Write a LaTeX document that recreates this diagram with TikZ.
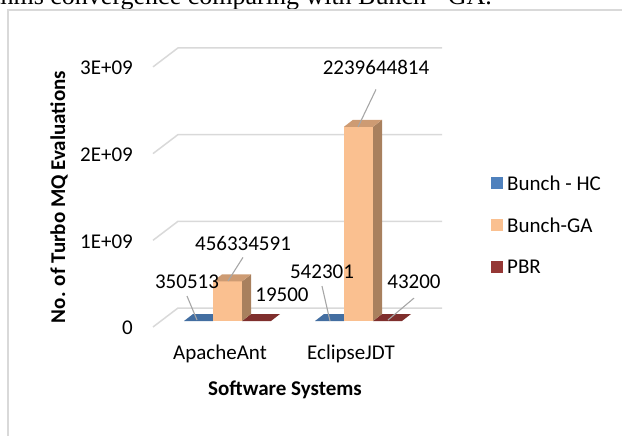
\documentclass[tikz,border=0pt]{standalone}
\usepackage{fontspec}
\setmainfont{Carlito}
\newfontfamily\capfont{Liberation Serif}
\definecolor{gridgray}{RGB}{217,217,217}
\definecolor{leadgray}{RGB}{166,166,166}
\definecolor{hcblue}{RGB}{79,129,189}
\definecolor{gaorange}{RGB}{250,192,144}
\definecolor{gaside}{RGB}{168,128,94}
\definecolor{gatop}{RGB}{205,155,115}
\definecolor{pbrred}{RGB}{149,55,53}
\begin{document}
\begin{tikzpicture}
    [x=1pt, y=-1pt,
    every node/.style={inner sep=0pt, font=\fontsize{21}{25}\selectfont},
    gridline/.style={draw=gridgray, line width=1.5pt},
    leader/.style={draw=leadgray, line width=1.1pt},
    key/.style={minimum size=12pt, anchor=west},
    title/.style={font=\fontsize{21}{25}\selectfont\bfseries}]
    \useasboundingbox (0,0) rectangle (622,436);
    \clip (0,0) rectangle (622,436);
    % caption line cut off at the top
    \node[anchor=base east, font=\fontsize{26}{30}\capfont] (caption) at (492,5)
        {algorithms convergence comparing with Bunch - GA.};
    % chart frame
    \draw[gridgray, line width=1.5pt] (8,436) -- (8,10) -- (622,10);
    % gridlines and tick labels
    \foreach \v/\t in {0/0, 1/1E+09, 2/2E+09, 3/3E+09} {
        \draw[gridline] (153,{327-86.7*\v}) -- ++(25,-19) -- ++(264,0);
        \node[anchor=east] (tick\v) at (133,{328-86.7*\v}) {\t};
    }
    % flat bars (Bunch - HC and PBR)
    \foreach \x/\c in {184/hcblue, 242/pbrred, 315/hcblue, 373/pbrred}
        \fill[\c!85!black] (\x,321) -- ++(9,-7) -- ++(29,0) -- ++(-9,7) -- cycle;
    % Bunch-GA bars
    \foreach \x/\h in {213/39.6, 344/194.2} {
        \fill[gaorange] (\x,321) rectangle ++(29,-\h);
        \fill[gaside] (\x+29,321) -- ++(9,-7) -- ++(0,-\h) -- ++(-9,7) -- cycle;
        \fill[gatop] (\x,321-\h) -- ++(9,-7) -- ++(29,0) -- ++(-9,7) -- cycle;
    }
    % data labels
    \node (antHC) at (187,282) {350513};
    \node (antGA) at (243,243) {456334591};
    \node (antPBR) at (282,295) {19500};
    \node (jdtHC) at (322,272) {542301};
    \node (jdtGA) at (376,67) {2239644814};
    \node (jdtPBR) at (414,282) {43200};
    \coordinate (antHCend) at (197,320);
    \coordinate (antGAend) at (228,281);
    \coordinate (jdtHCend) at (330,321);
    \coordinate (jdtGAend) at (358,127);
    \coordinate (jdtPBRend) at (388,320);
    \draw[leader] ([yshift=-7pt]antHC.south) -- (antHCend);
    \draw[leader] ([yshift=-7pt]antGA.south) -- (antGAend);
    \draw[leader] ([yshift=-7pt]jdtHC.south) -- (jdtHCend);
    \draw[leader] ([yshift=-15pt]jdtGA.south) -- (jdtGAend);
    \draw[leader] ([yshift=-9pt]jdtPBR.south) -- (jdtPBRend);
    % categories and axis titles
    \node (apache) at (220,354) {ApacheAnt};
    \node (eclipse) at (351,354) {EclipseJDT};
    \node[title] (xtitle) at (285,390) {Software Systems};
    \node[title, rotate=90] (ytitle) at (59,197) {No. of Turbo MQ Evaluations};
    % legend
    \node[key, fill=hcblue] (keyHC) at (491,183) {};
    \node[key, fill=gaorange] (keyGA) at (491,225) {};
    \node[key, fill=pbrred] (keyPBR) at (491,267) {};
    \node[anchor=west] (labHC) at (507,183) {Bunch - HC};
    \node[anchor=west] (labGA) at (507,225) {Bunch-GA};
    \node[anchor=west] (labPBR) at (507,267) {PBR};
\end{tikzpicture}
\end{document}
